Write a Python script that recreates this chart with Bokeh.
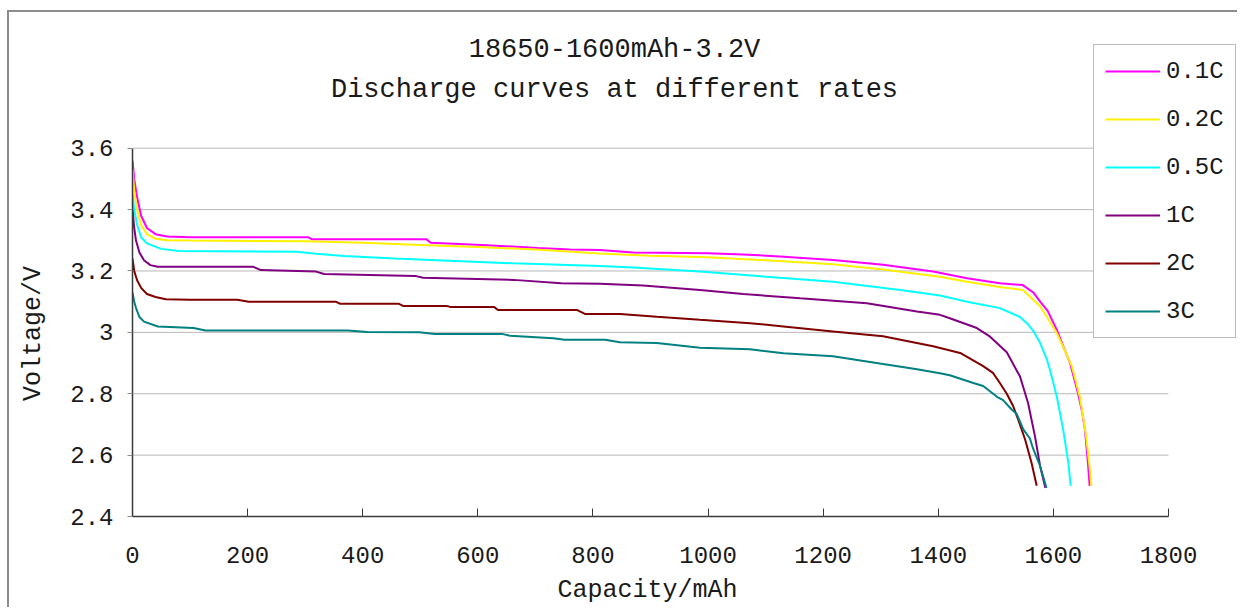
from bokeh.plotting import figure
from bokeh.models import (Range1d, FixedTicker, CustomJSTickFormatter, Legend,
                          LegendItem, Label)
from bokeh.embed import file_html
from bokeh.resources import INLINE

FONT = "Liberation Mono"
TXT = "#1a1a1a"
NBSP = "\u00a0"

title_line1 = "18650-1600mAh-3.2V"
title_line2 = "Discharge curves at different rates"
x_label = "Capacity/mAh"
y_label = "Voltage/V"

x_ticks = [0, 200, 400, 600, 800, 1000, 1200, 1400, 1600, 1800]
y_ticks = [2.4, 2.6, 2.8, 3.0, 3.2, 3.4, 3.6]

series_names = ["0.1C", "0.2C", "0.5C", "1C", "2C", "3C"]
series_colors = ["#FF00FF", "#FFF000", "#00FFFF", "#800080", "#800000", "#008080"]

cap_01C = [0, 3, 8, 15, 25, 40, 60, 100, 305, 312, 511, 518, 607, 704, 760, 812,
           870, 1000, 1061, 1125, 1217, 1304, 1391, 1450, 1507, 1547, 1565, 1577,
           1590, 1606, 1618, 1629, 1643, 1650, 1655, 1660, 1663]
volt_01C = [3.56, 3.50, 3.44, 3.38, 3.34, 3.32, 3.312, 3.31, 3.31, 3.303, 3.303,
            3.292, 3.285, 3.275, 3.27, 3.268, 3.26, 3.258, 3.254, 3.247, 3.236,
            3.22, 3.198, 3.176, 3.16, 3.154, 3.13, 3.10, 3.07, 3.008, 2.95, 2.90,
            2.80, 2.74, 2.68, 2.575, 2.50]

cap_02C = [0, 3, 8, 15, 25, 40, 60, 100, 300, 400, 500, 600, 700, 812, 900, 1000,
           1100, 1217, 1304, 1403, 1450, 1507, 1547, 1577, 1592, 1606, 1620, 1632,
           1646, 1657, 1663, 1666]
volt_02C = [3.53, 3.46, 3.40, 3.35, 3.32, 3.305, 3.30, 3.299, 3.297, 3.292, 3.285,
            3.278, 3.27, 3.257, 3.25, 3.245, 3.235, 3.222, 3.205, 3.181, 3.165,
            3.148, 3.138, 3.085, 3.04, 2.997, 2.94, 2.89, 2.79, 2.66, 2.56, 2.50]

cap_05C = [0, 3, 8, 15, 25, 50, 80, 285, 320, 367, 456, 662, 812, 870, 986, 1102,
           1217, 1334, 1403, 1450, 1507, 1542, 1554, 1565, 1577, 1589, 1594, 1606,
           1617, 1626, 1630]
volt_05C = [3.45, 3.40, 3.35, 3.31, 3.29, 3.272, 3.265, 3.263, 3.256, 3.249, 3.241,
            3.225, 3.216, 3.211, 3.198, 3.181, 3.165, 3.138, 3.12, 3.10, 3.079,
            3.05, 3.03, 3.005, 2.965, 2.91, 2.878, 2.79, 2.683, 2.575, 2.50]

cap_1C = [0, 3, 6, 12, 20, 31, 44, 100, 209, 223, 319, 333, 491, 505, 662, 745,
          812, 887, 986, 1061, 1160, 1276, 1363, 1403, 1420, 1467, 1490, 1519, 1542,
          1556, 1568, 1577, 1586]
volt_1C = [3.40, 3.34, 3.30, 3.26, 3.235, 3.219, 3.214, 3.214, 3.214, 3.203, 3.198,
           3.19, 3.184, 3.178, 3.171, 3.16, 3.158, 3.153, 3.138, 3.125, 3.111,
           3.095, 3.068, 3.057, 3.046, 3.014, 2.986, 2.935, 2.856, 2.77, 2.661,
           2.564, 2.494]

cap_2C = [0, 3, 8, 15, 25, 40, 58, 100, 182, 202, 353, 361, 463, 470, 546, 552,
          628, 635, 772, 786, 847, 911, 986, 1073, 1131, 1217, 1304, 1391, 1438,
          1478, 1495, 1507, 1519, 1530, 1540, 1551, 1562, 1571]
volt_2C = [3.24, 3.20, 3.17, 3.145, 3.125, 3.115, 3.108, 3.106, 3.106, 3.10, 3.10,
           3.093, 3.093, 3.086, 3.086, 3.083, 3.083, 3.073, 3.073, 3.06, 3.06,
           3.051, 3.041, 3.03, 3.019, 3.003, 2.987, 2.955, 2.933, 2.89, 2.868,
           2.835, 2.80, 2.76, 2.71, 2.65, 2.575, 2.50]

cap_3C = [0, 3, 6, 12, 20, 44, 106, 127, 374, 408, 498, 525, 642, 656, 731, 751,
          821, 847, 911, 986, 1073, 1131, 1217, 1304, 1363, 1403, 1420, 1461, 1478,
          1502, 1512, 1528, 1536, 1548, 1559, 1565, 1577, 1588]
volt_3C = [3.13, 3.10, 3.08, 3.05, 3.035, 3.019, 3.014, 3.006, 3.006, 3.001, 3.0,
           2.995, 2.995, 2.989, 2.981, 2.976, 2.976, 2.968, 2.965, 2.95, 2.945,
           2.932, 2.922, 2.897, 2.88, 2.867, 2.86, 2.835, 2.825, 2.79, 2.78, 2.748,
           2.735, 2.683, 2.655, 2.62, 2.564, 2.493]

caps = [cap_01C, cap_02C, cap_05C, cap_1C, cap_2C, cap_3C]
volts = [volt_01C, volt_02C, volt_05C, volt_1C, volt_2C, volt_3C]

# ---- layout (pixels) ----
W, H = 1237, 607
PX_LEFT, PX_RIGHT_1800 = 132, 1168      # x pixel of 0 and 1800 mAh
PX_TOP_36, PX_BOTTOM = 148, 517         # y pixel of 3.6 V and 2.4 V
ppv = (PX_BOTTOM - PX_TOP_36) / (y_ticks[-1] - y_ticks[0])
ppm = (PX_RIGHT_1800 - PX_LEFT) / (x_ticks[-1] - x_ticks[0])
y_end = y_ticks[-1] + PX_TOP_36 / ppv
x_end = x_ticks[-1] + (W - PX_RIGHT_1800) / ppm

p = figure(width=W, height=H, output_backend="svg", toolbar_location=None,
           title=None, x_range=Range1d(x_ticks[0], x_end),
           y_range=Range1d(y_ticks[0], y_end),
           min_border_left=PX_LEFT, min_border_right=0, min_border_top=0,
           min_border_bottom=H - PX_BOTTOM)
p.styles = {"background": "linear-gradient(#8c8c8c,#8c8c8c) 7px 10px / 2px 100% no-repeat, "
                          "linear-gradient(#8c8c8c,#8c8c8c) 7px 10px / 100% 2px no-repeat, #ffffff"}
p.outline_line_color = None
p.background_fill_alpha = 0
p.border_fill_alpha = 0

# grid (drawn only over the 0..1800 span, as in the original)
p.xgrid.visible = False
p.ygrid.visible = False
p.segment(x0=x_ticks[0], x1=x_ticks[-1], y0=y_ticks, y1=y_ticks,
          line_color="#b8b8b8", line_width=1)

# axes
xa = p.xaxis[0]
xa.ticker = FixedTicker(ticks=x_ticks)
xa.bounds = (x_ticks[0], x_ticks[-1])
xa.axis_line_color = "#3a3a3a"
xa.axis_line_width = 1.5
xa.major_tick_in = 8
xa.major_tick_out = 0
xa.major_tick_line_color = "#3a3a3a"
xa.minor_tick_line_color = None
xa.major_label_standoff = 30
xa.major_label_text_font = FONT
xa.major_label_text_font_size = "24px"
xa.major_label_text_color = TXT
# trailing no-break spaces re-centre the label over the 0..1800 span
xa.axis_label = x_label + NBSP * 5
xa.axis_label_text_font = FONT
xa.axis_label_text_font_size = "25px"
xa.axis_label_text_font_style = "normal"
xa.axis_label_text_color = TXT
xa.axis_label_standoff = 10

ya = p.yaxis[0]
ya.ticker = FixedTicker(ticks=y_ticks)
ya.bounds = (y_ticks[0], y_ticks[-1])
ya.formatter = CustomJSTickFormatter(code="return Number(tick.toFixed(2)).toString();")
ya.axis_line_color = "#3a3a3a"
ya.axis_line_width = 1.5
ya.major_tick_in = 0
ya.major_tick_out = 5
ya.major_tick_line_color = "#8a8a8a"
ya.minor_tick_line_color = None
ya.major_label_standoff = 14
ya.major_label_text_font = FONT
ya.major_label_text_font_size = "24px"
ya.major_label_text_color = TXT
# trailing no-break spaces re-centre the label over the 2.4..3.6 span
ya.axis_label = y_label + NBSP * 10
ya.axis_label_text_font = FONT
ya.axis_label_text_font_size = "25px"
ya.axis_label_text_font_style = "normal"
ya.axis_label_text_color = TXT
ya.axis_label_standoff = 19

# curves
items = []
for name, color, c, v in zip(series_names, series_colors, caps, volts):
    r = p.line(c, v, line_color=color, line_width=2)
    items.append(LegendItem(label=name, renderers=[r]))

legend = Legend(items=items, location=(1093 - PX_LEFT, PX_BOTTOM - 339), margin=0,
                padding=11, spacing=18, label_height=30, glyph_height=30,
                glyph_width=55, label_standoff=6, label_text_font=FONT,
                label_text_font_size="24px", label_text_color=TXT,
                border_line_color="#7a7a7a", border_line_width=1.5,
                background_fill_color="white", background_fill_alpha=1.0)
p.add_layout(legend, "center")

# two-line title
for txt, ypix in ((title_line1, 50), (title_line2, 90)):
    p.add_layout(Label(x=614 - PX_LEFT, y=PX_BOTTOM - ypix, x_units="screen",
                       y_units="screen", text=txt, text_align="center",
                       text_baseline="middle", text_font=FONT,
                       text_font_size="27px", text_color=TXT))

open("out.html", "w").write(file_html(p, INLINE))
